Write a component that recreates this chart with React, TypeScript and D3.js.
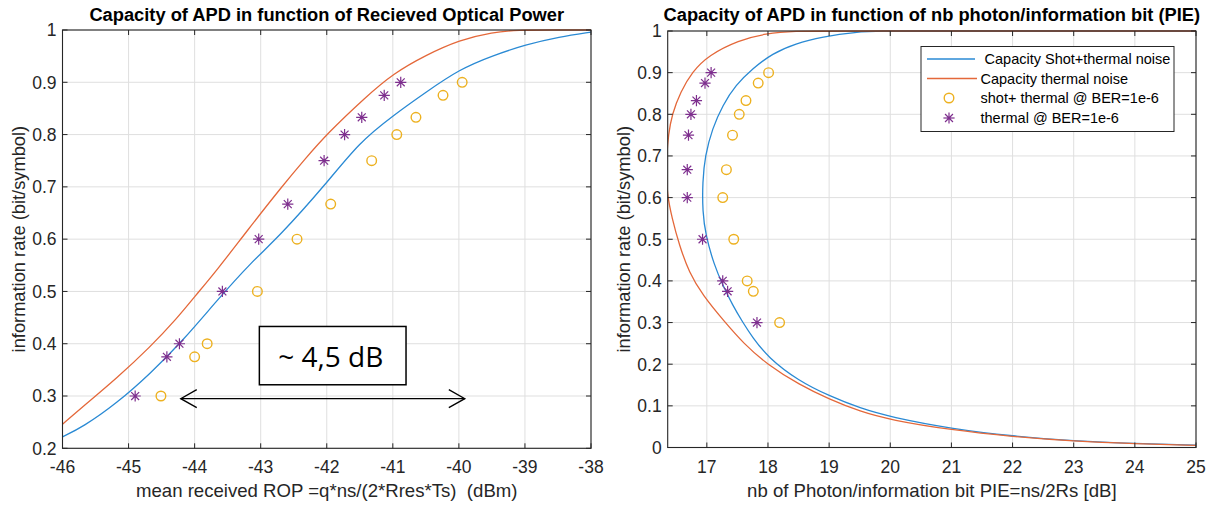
import React from 'react';
import * as d3 from 'd3';

// ---------- data ----------
// Left panel: capacity vs mean received optical power (dBm)
const leftThermalRop = [-46, -45.69, -45.18, -44.67, -44.27, -44.0, -43.66, -43.2, -42.67, -42.33, -42.0, -41.41, -40.99, -40.5, -39.99, -39.49, -39.1, -38.6, -38];
const leftThermalRate = [0.246, 0.28, 0.334, 0.394, 0.448, 0.49, 0.541, 0.617, 0.702, 0.753, 0.801, 0.872, 0.917, 0.952, 0.981, 0.996, 1.0, 1.0, 1.0];
const leftShotRop = [-46, -45.69, -45.18, -44.67, -44.17, -43.66, -43.15, -42.72, -42.0, -41.51, -40.99, -40.5, -39.99, -39.49, -38.99, -38.48, -38.0];
const leftShotRate = [0.222, 0.241, 0.286, 0.343, 0.407, 0.483, 0.555, 0.605, 0.707, 0.785, 0.837, 0.881, 0.925, 0.951, 0.972, 0.987, 0.996];

// BER = 1e-6 operating points (shared rates)
const berRate = [0.3, 0.375, 0.4, 0.5, 0.6, 0.667, 0.75, 0.8, 0.833, 0.875, 0.9];
const leftShotBerRop = [-44.51, -44.0, -43.81, -43.05, -42.45, -41.94, -41.32, -40.94, -40.65, -40.24, -39.95];
const leftThermalBerRop = [-44.9, -44.42, -44.23, -43.58, -43.03, -42.59, -42.04, -41.73, -41.47, -41.13, -40.88];

// Right panel: capacity vs photons per information bit (dB)
const rightThermalRate = [0.005, 0.009, 0.015, 0.026, 0.042, 0.066, 0.086, 0.116, 0.15, 0.2, 0.25, 0.3, 0.366, 0.42, 0.486, 0.55, 0.61, 0.66, 0.7, 0.75, 0.8, 0.854, 0.902, 0.942, 0.978, 0.994, 1.0, 1.0, 1.0];
const rightThermalPie = [25.0, 24.0, 23.0, 22.0, 21.0, 20.01, 19.51, 19.0, 18.52, 17.98, 17.6, 17.3, 16.93, 16.71, 16.55, 16.43, 16.35, 16.335, 16.345, 16.37, 16.43, 16.57, 16.76, 17.03, 17.52, 17.96, 18.45, 19.0, 25.0];
const rightShotRate = [0.0055, 0.0095, 0.016, 0.027, 0.045, 0.073, 0.094, 0.124, 0.16, 0.216, 0.266, 0.3, 0.342, 0.39, 0.438, 0.51, 0.566, 0.638, 0.7, 0.766, 0.822, 0.87, 0.91, 0.946, 0.97, 0.986, 0.998, 1.0, 1.0, 1.0];
const rightShotPie = [25.0, 24.0, 23.0, 22.0, 21.0, 20.01, 19.51, 19.0, 18.5, 18.0, 17.74, 17.59, 17.42, 17.26, 17.12, 16.98, 16.93, 16.93, 16.97, 17.09, 17.26, 17.47, 17.75, 18.07, 18.45, 18.89, 19.43, 19.9, 20.4, 25.0];
const rightShotBerPie = [18.19, 17.76, 17.66, 17.44, 17.26, 17.32, 17.42, 17.53, 17.64, 17.84, 18.01];
const rightThermalBerPie = [17.82, 17.34, 17.26, 16.93, 16.68, 16.68, 16.7, 16.74, 16.83, 16.97, 17.07];

// ticks
const leftXTicks = [-46, -45, -44, -43, -42, -41, -40, -39, -38];
const leftYTicks = [0.2, 0.3, 0.4, 0.5, 0.6, 0.7, 0.8, 0.9, 1];
const rightXTicks = [17, 18, 19, 20, 21, 22, 23, 24, 25];
const rightYTicks = [0, 0.1, 0.2, 0.3, 0.4, 0.5, 0.6, 0.7, 0.8, 0.9, 1];

// annotation (in data units of the left panel)
const noteBoxRop = [-43.02, -40.8];
const noteBoxRate = [0.433, 0.3215];
const noteArrowRop = [-44.21, -39.91];
const noteArrowRate = 0.295;
const noteText = '~ 4,5 dB';

const legendLabels = [' Capacity Shot+thermal noise', 'Capacity thermal noise', 'shot+ thermal @ BER=1e-6', 'thermal @ BER=1e-6'];

// ---------- styling ----------
const W = 1207;
const H = 505;
const FONT = '"Liberation Sans", Arial, Helvetica, sans-serif';
const AX = '#262626';
const GRID = '#dfdfdf';
const BLUE = '#2a8ad4';
const ORANGE = '#e4683a';
const YELLOW = '#edb120';
const PURPLE = '#7e2f8e';

const fmt = (v: number) => (Math.abs(v - Math.round(v)) < 1e-9 ? String(Math.round(v)) : String(+v.toFixed(1)));

function Star({ x, y, r = 5.6 }: { x: number; y: number; r?: number }) {
  const d = r * 0.7071;
  return (
    <g stroke={PURPLE} strokeWidth={1.2}>
      <line x1={x - r} y1={y} x2={x + r} y2={y} />
      <line x1={x} y1={y - r} x2={x} y2={y + r} />
      <line x1={x - d} y1={y - d} x2={x + d} y2={y + d} />
      <line x1={x - d} y1={y + d} x2={x + d} y2={y - d} />
      <circle cx={x} cy={y} r={1.6} fill={PURPLE} stroke="none" />
    </g>
  );
}

function Axes({
  id, xs, ys, xTicks, yTicks, title, xLabel, yLabel, yLabelX, children,
}: {
  id: string;
  xs: d3.ScaleLinear<number, number>;
  ys: d3.ScaleLinear<number, number>;
  xTicks: number[];
  yTicks: number[];
  title: string;
  xLabel: string;
  yLabel: string;
  yLabelX: number;
  children?: React.ReactNode;
}) {
  const [x0, x1] = xs.range();
  const [y1, y0] = ys.range();
  const tl = 5;
  const cx = (x0 + x1) / 2;
  const cy = (y0 + y1) / 2;
  return (
    <g>
      <defs>
        <clipPath id={id}>
          <rect x={x0} y={y0 - 1} width={x1 - x0} height={y1 - y0 + 2} />
        </clipPath>
      </defs>
      <rect x={x0} y={y0} width={x1 - x0} height={y1 - y0} fill="#fff" />
      {xTicks.map((t) => (
        <line key={'gx' + t} x1={xs(t)} x2={xs(t)} y1={y0} y2={y1} stroke={GRID} strokeWidth={1} />
      ))}
      {yTicks.map((t) => (
        <line key={'gy' + t} x1={x0} x2={x1} y1={ys(t)} y2={ys(t)} stroke={GRID} strokeWidth={1} />
      ))}
      <g clipPath={`url(#${id})`}>{children}</g>
      <rect x={x0} y={y0} width={x1 - x0} height={y1 - y0} fill="none" stroke={AX} strokeWidth={1.1} />
      {xTicks.map((t) => (
        <g key={'tx' + t} stroke={AX} strokeWidth={1}>
          <line x1={xs(t)} x2={xs(t)} y1={y1} y2={y1 - tl} />
          <line x1={xs(t)} x2={xs(t)} y1={y0} y2={y0 + tl} />
        </g>
      ))}
      {yTicks.map((t) => (
        <g key={'ty' + t} stroke={AX} strokeWidth={1}>
          <line x1={x0} x2={x0 + tl} y1={ys(t)} y2={ys(t)} />
          <line x1={x1} x2={x1 - tl} y1={ys(t)} y2={ys(t)} />
        </g>
      ))}
      {xTicks.map((t) => (
        <text key={'lx' + t} x={xs(t)} y={y1 + 25} textAnchor="middle" fontSize={17.5} fill={AX} fontFamily={FONT}>
          {fmt(t)}
        </text>
      ))}
      {yTicks.map((t) => (
        <text key={'ly' + t} x={x0 - 6} y={ys(t)} dy="0.36em" textAnchor="end" fontSize={17.5} fill={AX} fontFamily={FONT}>
          {fmt(t)}
        </text>
      ))}
      <text x={cx} y={21} textAnchor="middle" fontSize={18.3} fontWeight="bold" fill="#000" fontFamily={FONT}>
        {title}
      </text>
      <text x={cx} y={497} textAnchor="middle" fontSize={18.6} fill={AX} fontFamily={FONT} style={{ whiteSpace: 'pre' }}>
        {xLabel}
      </text>
      <text
        transform={`translate(${yLabelX},${cy}) rotate(-90)`}
        textAnchor="middle"
        fontSize={18.3}
        fill={AX}
        fontFamily={FONT}
      >
        {yLabel}
      </text>
    </g>
  );
}

export default function App() {
  const lx = d3.scaleLinear().domain([-46, -38]).range([62.5, 591]);
  const ly = d3.scaleLinear().domain([0.2, 1]).range([448.3, 30]);
  const rx = d3.scaleLinear().domain([16.36, 25]).range([667.7, 1196]);
  const ry = d3.scaleLinear().domain([0, 1]).range([447.5, 31]);

  const leftLine = d3
    .line<[number, number]>()
    .x((d) => lx(d[0]))
    .y((d) => ly(d[1]))
    .curve(d3.curveBasis);
  const rightLine = d3
    .line<[number, number]>()
    .x((d) => rx(d[1]))
    .y((d) => ry(d[0]))
    .curve(d3.curveBasis);

  const lThermal = leftLine(leftThermalRop.map((v, i) => [v, leftThermalRate[i]] as [number, number])) || '';
  const lShot = leftLine(leftShotRop.map((v, i) => [v, leftShotRate[i]] as [number, number])) || '';
  const rThermal = rightLine(rightThermalRate.map((v, i) => [v, rightThermalPie[i]] as [number, number])) || '';
  const rShot = rightLine(rightShotRate.map((v, i) => [v, rightShotPie[i]] as [number, number])) || '';

  const bx0 = lx(noteBoxRop[0]);
  const bx1 = lx(noteBoxRop[1]);
  const by0 = ly(noteBoxRate[0]);
  const by1 = ly(noteBoxRate[1]);
  const ay = ly(noteArrowRate);
  const ax0 = lx(noteArrowRop[0]);
  const ax1 = lx(noteArrowRop[1]);

  // legend geometry
  const lgX0 = 921;
  const lgX1 = 1174;
  const lgY0 = 46.5;
  const lgY1 = 131.5;
  const rowY = [59, 78.5, 98, 118];

  return (
    <svg
      width={W}
      height={H}
      viewBox={`0 0 ${W} ${H}`}
      style={{ position: 'absolute', left: 0, top: 0, background: '#fff' }}
    >
      <rect x={0} y={0} width={W} height={H} fill="#fff" />
      <Axes
        id="clipL"
        xs={lx}
        ys={ly}
        xTicks={leftXTicks}
        yTicks={leftYTicks}
        title="Capacity of APD in function of Recieved Optical Power"
        xLabel="mean received ROP =q*ns/(2*Rres*Ts)  (dBm)"
        yLabel="information rate (bit/symbol)"
        yLabelX={25}
      >
        <path d={lShot} fill="none" stroke={BLUE} strokeWidth={1.3} />
        <path d={lThermal} fill="none" stroke={ORANGE} strokeWidth={1.3} />
        {leftShotBerRop.map((v, i) => (
          <circle key={'lc' + i} cx={lx(v)} cy={ly(berRate[i])} r={4.8} fill="none" stroke={YELLOW} strokeWidth={1.4} />
        ))}
        {leftThermalBerRop.map((v, i) => (
          <Star key={'ls' + i} x={lx(v)} y={ly(berRate[i])} />
        ))}
      </Axes>

      {/* annotation */}
      <rect x={bx0} y={by0} width={bx1 - bx0} height={by1 - by0} fill="#fff" stroke="#000" strokeWidth={1.5} />
      <text x={(bx0 + bx1) / 2 - 2} y={by1 - 18} textAnchor="middle" fontSize={28} fill="#000" fontFamily='"Open Sans", Lato, sans-serif'>
        {noteText}
      </text>
      <g stroke="#000" strokeWidth={1.3} fill="none">
        <line x1={ax0} y1={ay} x2={ax1} y2={ay} />
        <polyline points={`${ax0 + 16},${ay - 9} ${ax0},${ay} ${ax0 + 16},${ay + 9}`} />
        <polyline points={`${ax1 - 16},${ay - 9} ${ax1},${ay} ${ax1 - 16},${ay + 9}`} />
      </g>

      <Axes
        id="clipR"
        xs={rx}
        ys={ry}
        xTicks={rightXTicks}
        yTicks={rightYTicks}
        title="Capacity of APD in function of nb photon/information bit (PIE)"
        xLabel="nb of Photon/information bit PIE=ns/2Rs [dB]"
        yLabel="information rate (bit/symbol)"
        yLabelX={630}
      >
        <path d={rShot} fill="none" stroke={BLUE} strokeWidth={1.3} />
        <path d={rThermal} fill="none" stroke={ORANGE} strokeWidth={1.3} />
        {rightShotBerPie.map((v, i) => (
          <circle key={'rc' + i} cx={rx(v)} cy={ry(berRate[i])} r={4.8} fill="none" stroke={YELLOW} strokeWidth={1.4} />
        ))}
        {rightThermalBerPie.map((v, i) => (
          <Star key={'rs' + i} x={rx(v)} y={ry(berRate[i])} />
        ))}
      </Axes>

      {/* legend */}
      <rect x={lgX0} y={lgY0} width={lgX1 - lgX0} height={lgY1 - lgY0} fill="#fff" stroke={AX} strokeWidth={1} />
      <line x1={927} x2={975} y1={rowY[0]} y2={rowY[0]} stroke={BLUE} strokeWidth={1.3} />
      <line x1={927} x2={977} y1={rowY[1]} y2={rowY[1]} stroke={ORANGE} strokeWidth={1.3} />
      <circle cx={949} cy={rowY[2]} r={4.8} fill="none" stroke={YELLOW} strokeWidth={1.4} />
      <Star x={949} y={rowY[3]} />
      {legendLabels.map((s, i) => (
        <text
          key={'lg' + i}
          x={980.5}
          y={rowY[i]}
          dy="0.36em"
          fontSize={14.5}
          fill="#000"
          fontFamily={FONT}
          style={{ whiteSpace: 'pre' }}
        >
          {s}
        </text>
      ))}
    </svg>
  );
}
